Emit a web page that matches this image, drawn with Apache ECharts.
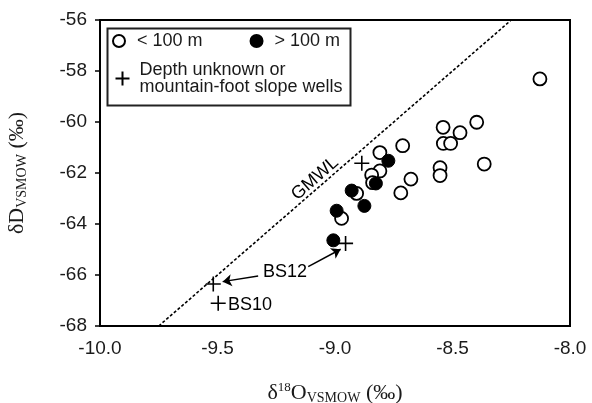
<!DOCTYPE html>
<html lang="en">
<head>
<meta charset="UTF-8">
<script src="https://cdn.jsdelivr.net/npm/echarts@6/dist/echarts.min.js"></script>
<title>dD vs d18O</title>
</head>
<body style="margin:0">
<div id="chart" style="width:592px;height:403px;"></div>
<script>
    // wells shallower than 100 m  [d18O, dD]
    var shallowWells = [
        [-8.128, -58.31], [-8.540, -60.21], [-8.468, -60.42], [-8.397, -60.01],
        [-8.539, -60.84], [-8.508, -60.84], [-8.365, -61.65], [-8.553, -61.79],
        [-8.553, -62.10], [-8.677, -62.24], [-8.712, -60.93], [-8.720, -62.78],
        [-8.809, -61.20], [-8.809, -61.92], [-8.844, -62.08], [-8.840, -62.38],
        [-8.908, -62.80], [-8.972, -63.78]
    ];
    // wells deeper than 100 m
    var deepWells = [
        [-8.773, -61.52], [-8.826, -62.41], [-8.929, -62.69],
        [-8.875, -63.29], [-8.993, -63.48], [-9.007, -64.64]
    ];
    // depth unknown / slope wells
    var unknownWells = [
        [-8.886, -61.62], [-8.955, -64.76], [-9.518, -66.35], [-9.497, -67.11]
    ];
    // global meteoric water line end points (dD = 8 d18O + 10)
    var gmwl = [[-9.75, -68], [-8.25, -56]];

    var noteText = ['GMWL', 'BS12', 'BS10'];
    var notePos = [[-9.085, -62.22], [-9.213, -65.87], [-9.362, -67.18]];
    var arrows = [
        [[-9.327, -66.04], [-9.478, -66.26]],
        [[-9.114, -65.67], [-8.976, -64.99]]
    ];

    var ink = '#1a1a1a';
    var myChart = echarts.init(document.getElementById('chart'));

    var option = {
        animation: false,
        backgroundColor: '#fff',
        grid: {left: 100, right: 22, top: 20, bottom: 77, outerBoundsMode: 'none',
            show: true, borderColor: '#000', borderWidth: 2},
        xAxis: {
            type: 'value', min: -10, max: -8, interval: 0.5,
            axisLine: {lineStyle: {color: '#000', width: 2}},
            axisTick: {show: false},
            splitLine: {show: false},
            axisLabel: {color: ink, fontSize: 19, fontFamily: 'Liberation Sans', margin: 13,
                formatter: function (v) { return v.toFixed(1); }},
            name: '{a|δ}{sup|18}{a|O}{sub|VSMOW}{a| (‰)}',
            nameLocation: 'middle', nameGap: 55,
            nameTextStyle: {
                rich: {
                    a: {fontFamily: 'Liberation Serif', fontSize: 22, color: ink},
                    sup: {fontFamily: 'Liberation Serif', fontSize: 13, color: ink, padding: [0, 0, 10, 0]},
                    sub: {fontFamily: 'Liberation Serif', fontSize: 14, color: ink, padding: [10, 0, 0, 0]}
                }
            }
        },
        yAxis: {
            type: 'value', min: -68, max: -56, interval: 2,
            axisLine: {lineStyle: {color: '#000', width: 2}},
            axisTick: {show: true, length: 5, lineStyle: {color: '#000', width: 1.5}},
            splitLine: {show: false},
            axisLabel: {color: ink, fontSize: 19, fontFamily: 'Liberation Sans', margin: 13},
            name: '{a|δD}{sub|VSMOW}{a| (‰)}',
            nameLocation: 'middle', nameGap: 71, nameRotate: 90,
            nameTextStyle: {
                rich: {
                    a: {fontFamily: 'Liberation Serif', fontSize: 22, color: ink},
                    sub: {fontFamily: 'Liberation Serif', fontSize: 14, color: ink, padding: [10, 0, 0, 0]}
                }
            }
        },
        legend: [
            {
                data: ['< 100 m', '> 100 m'],
                left: 112, top: 32, padding: 0, itemGap: 47,
                itemWidth: 12, itemHeight: 12, selectedMode: false,
                textStyle: {color: ink, fontSize: 18, fontFamily: 'Liberation Sans', padding: [0, 0, 0, 7]}
            },
            {
                data: ['Depth unknown or mountain-foot slope wells'],
                left: 113, top: 61, padding: 0,
                itemWidth: 14, itemHeight: 14, selectedMode: false,
                formatter: function (n) { return n.replace(' mountain', '\nmountain'); },
                textStyle: {color: ink, fontSize: 18, lineHeight: 17, fontFamily: 'Liberation Sans', padding: [0, 0, 0, 5]}
            }
        ],
        graphic: [{
            type: 'rect', left: 105, top: 26,
            shape: {width: 243, height: 77},
            style: {fill: 'none', stroke: '#222', lineWidth: 2}
        }],
        series: [
            {
                type: 'line', data: gmwl, symbol: 'none', silent: true,
                lineStyle: {color: '#000', width: 1.6, type: [3, 2]}
            },
            {
                name: '< 100 m', type: 'scatter', data: shallowWells, symbol: 'circle', symbolSize: 13,
                itemStyle: {color: '#fff', borderColor: '#000', borderWidth: 1.8, opacity: 1}
            },
            {
                name: '> 100 m', type: 'scatter', data: deepWells, symbol: 'circle', symbolSize: 13,
                itemStyle: {color: '#000', borderColor: '#000', borderWidth: 1, opacity: 1}
            },
            {
                name: 'Depth unknown or mountain-foot slope wells', type: 'scatter', data: unknownWells,
                symbol: 'path://M6,0L6,12M0,6L12,6', symbolSize: 15,
                itemStyle: {color: 'none', borderColor: '#000', borderWidth: 1.6, opacity: 1}
            },
            {
                type: 'scatter', symbolSize: 0, silent: true,
                itemStyle: {opacity: 1},
                data: notePos.map(function (p, i) {
                    return {
                        value: p,
                        label: {
                            show: true, position: 'inside', formatter: noteText[i],
                            rotate: i === 0 ? 41 : 0,
                            color: '#000', fontSize: 18, fontFamily: 'Liberation Sans'
                        }
                    };
                })
            },
            {
                type: 'lines', coordinateSystem: 'cartesian2d', silent: true,
                symbol: ['none', 'arrow'], symbolSize: 9,
                lineStyle: {color: '#000', width: 1.5, opacity: 1, curveness: 0},
                data: arrows.map(function (c) { return {coords: c}; })
            }
        ]
    };
    myChart.setOption(option);
</script>
</body>
</html>
